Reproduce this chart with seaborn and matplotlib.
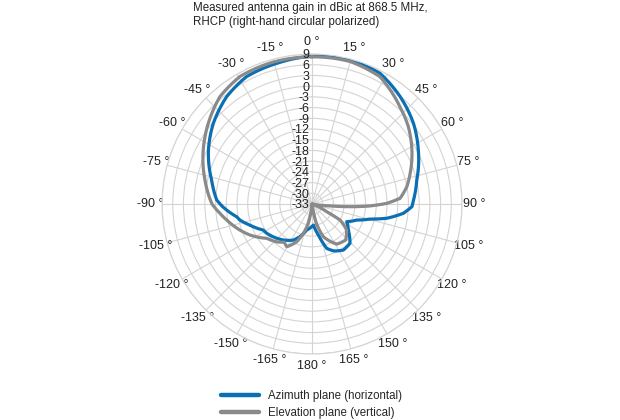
import numpy as np
import pandas as pd
import seaborn as sns
from matplotlib import pyplot as plt

# angles in degrees (0 = top, clockwise), gain in dBic
az_deg = [0, 15, 27.5, 39.4, 51.5, 63, 77, 88, 91.5, 95.8, 100.8, 104.5, 109.7, 117, 125.6,
          136, 145.8, 155, 161.6, 168, 176, 191.5, 200.2, 207.5, 218.6, 237.1, 242, 250,
          257.5, 260.4, 268.2, 272.4, 283.5, 297.5, 309.3, 321.5, 332.8, 345.9, 360]
az_gain = [8.4, 8.7, 8.25, 5.9, 3.3, 0.4, -2.9, -4.6, -5.0, -7.3, -11.7, -16.2, -19.7, -22.1, -20.5,
           -17.7, -17.4, -18.5, -19.9, -24.0, -27.1, -25.6, -23.3, -21.6, -20.1, -17.9, -17.5, -15.0,
           -12.3, -11.6, -8.0, -6.3, -4.1, -0.3, 2.7, 5.4, 7.1, 7.6, 8.4]

el_deg = [0, 15, 28.1, 42.1, 51.2, 60.1, 72.6, 79.6, 86.3, 89.5, 92, 94, 96, 100, 110, 117.6,
          119.7, 126.8, 136.9, 148.3, 160.9, 168, 172, 180, 185, 191, 196.5, 202.1, 210.6, 216,
          223.1, 232.9, 243.4, 259.4, 264.2, 270, 282.6, 296.4, 307.9, 319.4, 330.5, 345, 360]
el_gain = [8.2, 8.3, 7.4, 3.7, 1.6, -0.8, -4.2, -6.0, -8.3, -12.1, -17.0, -22.3, -28.0, -33, -33, -28.4,
           -24.0, -20.9, -19.2, -19.8, -23.3, -28.0, -33, -33, -33, -27.5, -24.4, -21.6, -19.1, -19.8,
           -18.5, -17.1, -13.6, -8.7, -7.1, -5.0, -2.3, 1.0, 3.8, 6.6, 8.0, 8.2, 8.2]

r_ticks = list(range(-33, 10, 3))
theta_ticks = list(range(0, 360, 15))
theta_labels = ['%d °' % (t if t <= 180 else t - 360) for t in theta_ticks]

az = pd.DataFrame({'theta': np.deg2rad(az_deg), 'gain': az_gain})
el = pd.DataFrame({'theta': np.deg2rad(el_deg), 'gain': el_gain})

sns.set_style('white')
plt.rcParams['font.family'] = ['Liberation Sans', 'DejaVu Sans']

fig = plt.figure(figsize=(6.2, 4.2), dpi=100)
ax = fig.add_axes([0.2613, 0.1571, 0.4839, 0.7143], projection='polar')
ax.set_theta_zero_location('N')
ax.set_theta_direction(-1)

sns.lineplot(data=az, x='theta', y='gain', sort=False, ax=ax, color='#0a6fb3', lw=2.3,
             label='Azimuth plane (horizontal)')
sns.lineplot(data=el, x='theta', y='gain', sort=False, ax=ax, color='#8a8a8a', lw=2.3,
             label='Elevation plane (vertical)')
# draw segments as arcs in polar space
for line in ax.lines:
    line.get_path()._interpolation_steps = 20

ax.set_rlim(-33, 9)
ax.set_yticks(r_ticks)
ax.set_yticklabels([])
ax.set_xticks(np.deg2rad(theta_ticks))
ax.set_xticklabels(theta_labels, fontsize=9, color='#222222')
ax.tick_params(axis='x', pad=-2)
ax.set_xlabel('')
ax.set_ylabel('')
ax.grid(True, color='#d4d4d4', lw=0.8)
ax.spines['polar'].set_color('#d4d4d4')
ax.spines['polar'].set_linewidth(0.8)

for r in r_ticks:
    ax.annotate(str(r), xy=(0, r), xytext=(-2, -1), textcoords='offset points',
                ha='right', va='center', fontsize=9, color='#222222')

ax.get_legend().remove()
h, l = ax.get_legend_handles_labels()
leg = fig.legend(h, l, loc='upper left', bbox_to_anchor=(0.356, 0.072), frameon=False,
                 fontsize=8.3, handlelength=3.3, handletextpad=0.8, labelspacing=0.45,
                 borderaxespad=0, borderpad=0)
for line in leg.get_lines():
    line.set_linewidth(3.2)

fig.text(0.311, 0.995, 'Measured antenna gain in dBic at 868.5 MHz,\nRHCP (right-hand circular polarized)',
         ha='left', va='top', fontsize=8.3, color='#222222', linespacing=1.25)

fig.savefig('out.png', dpi=100)
